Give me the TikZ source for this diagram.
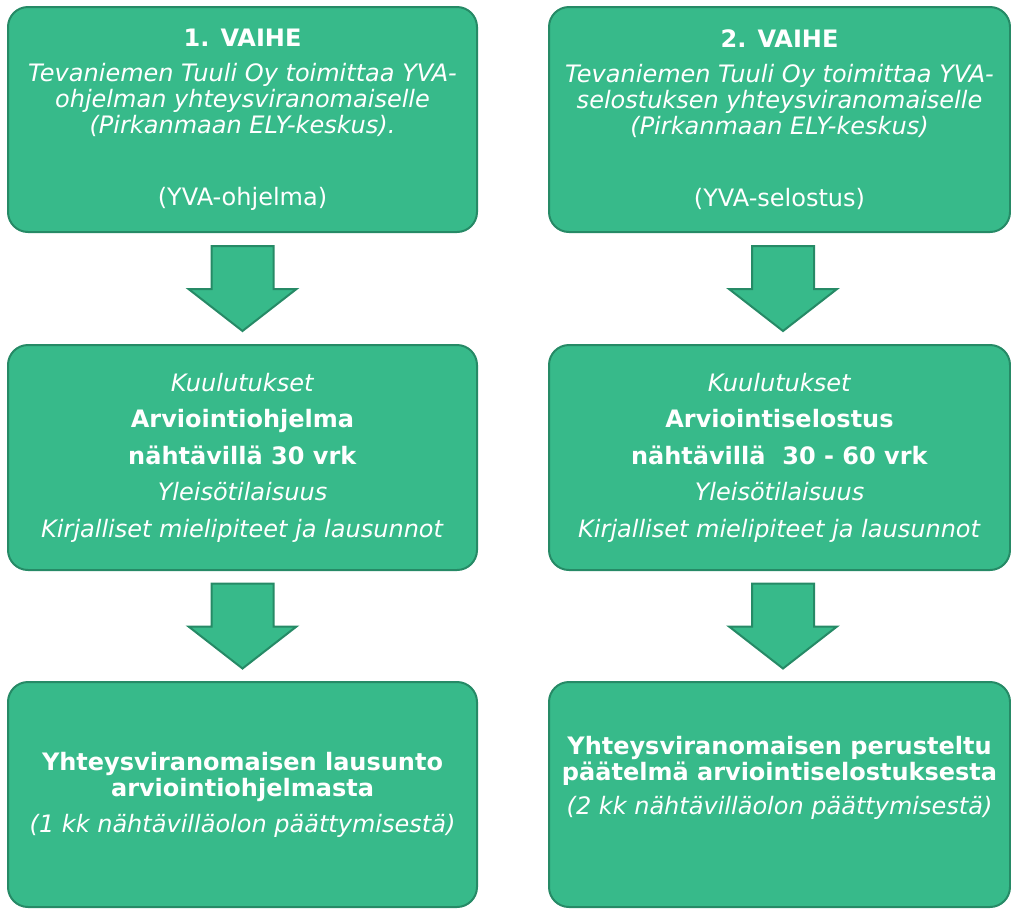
\documentclass[tikz,border=0pt]{standalone}
\usepackage{fontspec}
\setmainfont{DejaVu Sans}
\usetikzlibrary{positioning,calc}
\definecolor{stagegreen}{HTML}{37BA8A}
\definecolor{stageedge}{HTML}{268A66}

\begin{document}
\begin{tikzpicture}[
  x=0.75pt, y=-0.75pt,
  stagebox/.style={rectangle, rounded corners=15pt, draw=stageedge, line width=1.5pt,
    fill=stagegreen, text=white, align=center, minimum height=168.75pt, inner sep=0pt,
    font=\fontsize{18}{19.5}\selectfont},
  leftbox/.style={stagebox, minimum width=351.75pt},
  rightbox/.style={stagebox, minimum width=345.75pt},
  widelines/.style={font=\fontsize{18}{27.4}\selectfont},
  arrowblock/.style={draw=stageedge, line width=1.5pt, fill=stagegreen, line join=miter}
]
\useasboundingbox (0,0) rectangle (1011,908);

% Phase 1 (left column)
\node[leftbox] (prog) at (242.5,119.5) {\textbf{1. VAIHE}\\[6.75pt]
  \textit{Tevaniemen Tuuli Oy toimittaa YVA-}\\
  \textit{ohjelman yhteysviranomaiselle}\\
  \textit{(Pirkanmaan ELY-keskus).}\\[34.5pt]
  (YVA-ohjelma)};
\node[leftbox, widelines] (progview) at (242.5,457.5) {\textit{Kuulutukset}\\
  \textbf{Arviointiohjelma}\\
  \textbf{nähtävillä 30 vrk}\\
  \textit{Yleisötilaisuus}\\
  \textit{Kirjalliset mielipiteet ja lausunnot}};
\node[leftbox] (progstmt) at (242.5,794.5) {\textbf{Yhteysviranomaisen lausunto}\\
  \textbf{arviointiohjelmasta}\\[7.5pt]
  \textit{(1 kk nähtävilläolon päättymisestä)}};

% Phase 2 (right column)
\node[rightbox] (rep) at (779.5,119.5) {\textbf{2. VAIHE}\\[6.75pt]
  \textit{Tevaniemen Tuuli Oy toimittaa YVA-}\\
  \textit{selostuksen yhteysviranomaiselle}\\
  \textit{(Pirkanmaan ELY-keskus)}\\[34.5pt]
  (YVA-selostus)};
\node[rightbox, widelines] (repview) at (779.5,457.5) {\textit{Kuulutukset}\\
  \textbf{Arviointiselostus}\\
  \textbf{nähtävillä~~30 - 60 vrk}\\
  \textit{Yleisötilaisuus}\\
  \textit{Kirjalliset mielipiteet ja lausunnot}};
\node[rightbox] (repstmt) at (779.5,794.5) {\textbf{Yhteysviranomaisen perusteltu}\\
  \textbf{päätelmä arviointiselostuksesta}\\[6pt]
  \textit{(2 kk nähtävilläolon päättymisestä)}\\[9pt]
  \mbox{}};

% Block arrows between the stages
\draw[arrowblock] ($(prog.south)!0.5!(progview.north)$) ++(-31,-42.5) -- ++(62,0) -- ++(0,43)
  -- ++(23,0) -- ++(-54,42) -- ++(-54,-42) -- ++(23,0) -- cycle;
\draw[arrowblock] ($(progview.south)!0.5!(progstmt.north)$) ++(-31,-42.5) -- ++(62,0) -- ++(0,43)
  -- ++(23,0) -- ++(-54,42) -- ++(-54,-42) -- ++(23,0) -- cycle;
\draw[arrowblock] ($(rep.south)!0.5!(repview.north)$) ++(-27.5,-42.5) -- ++(62,0) -- ++(0,43)
  -- ++(23,0) -- ++(-54,42) -- ++(-54,-42) -- ++(23,0) -- cycle;
\draw[arrowblock] ($(repview.south)!0.5!(repstmt.north)$) ++(-27.5,-42.5) -- ++(62,0) -- ++(0,43)
  -- ++(23,0) -- ++(-54,42) -- ++(-54,-42) -- ++(23,0) -- cycle;

\end{tikzpicture}
\end{document}
